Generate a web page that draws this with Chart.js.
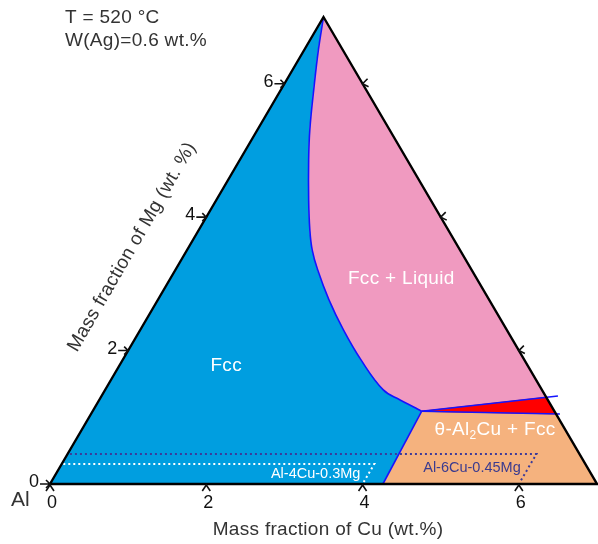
<!DOCTYPE html>
<html>
<head>
<meta charset="utf-8">
<title>Al-Cu-Mg isothermal section</title>
<script src="https://cdn.jsdelivr.net/npm/chart.js@4.4.1/dist/chart.umd.min.js"></script>
<style>
  html, body { margin: 0; padding: 0; background: #fff; }
  canvas { display: block; }
</style>
</head>
<body>
<canvas id="ternary" width="598" height="544"></canvas>
<script>
// ===================================
// DATA (wt.% Cu, wt.% Mg; Al is the balance)
// ===================================

const cornerCu = [0, 7, 0];
const cornerMg = [0, 0, 7];

// Fcc / Fcc + Liquid boundary, Mg corner down to the three-phase point
const liquidusCu = [0, 0.18, 0.42, 0.67, 0.88, 1.18, 1.42, 1.60, 1.82, 2.19, 2.60, 3.05, 3.56, 3.85, 4.11, 4.21];
const liquidusMg = [7, 6.51, 5.91, 5.31, 4.86, 4.26, 3.81, 3.51, 3.21, 2.76, 2.31, 1.86, 1.41, 1.26, 1.14, 1.09];

// Fcc / theta + Fcc boundary
const solvusCu = [4.21, 4.26];
const solvusMg = [1.09, 0];

// edges of the three-phase sliver (they run a little past the Cu+Mg=7 side)
const upperCu = [4.21, 5.84];
const upperMg = [1.09, 1.32];
const lowerCu = [4.21, 6.00];
const lowerMg = [1.09, 1.05];

// alloy composition guides
const alloy4Cu = [0.02, 4, 4];
const alloy4Mg = [0.30, 0.30, 0.02];
const alloy6Cu = [0.03, 6, 6];
const alloy6Mg = [0.45, 0.45, 0.02];

const cuTicks = [0, 2, 4, 6];
const mgTicks = [0, 2, 4, 6];
const rightTicks = [2, 4, 6];

// ===================================
// HELPERS
// ===================================

// ternary (Cu, Mg) -> cartesian, Mg corner sits above Cu = 3.5
function toXY(cu, mg) {
    return { x: cu + mg / 2, y: mg };
}

function points(cus, mgs) {
    return cus.map((c, i) => toXY(c, mgs[i]));
}

// where a two-point line meets the Cu + Mg = 7 side
function edgeHit(cus, mgs) {
    const s0 = cus[0] + mgs[0];
    const s1 = cus[1] + mgs[1];
    const t = (7 - s0) / (s1 - s0);
    return [cus[0] + t * (cus[1] - cus[0]), mgs[0] + t * (mgs[1] - mgs[0])];
}

const upperEnd = edgeHit(upperCu, upperMg);
const lowerEnd = edgeHit(lowerCu, lowerMg);
const triple = [liquidusCu[liquidusCu.length - 1], liquidusMg[liquidusMg.length - 1]];
const solvusFoot = [solvusCu[1], solvusMg[1]];

// region outlines
const fccRegion = [toXY(0, 0), ...points(liquidusCu, liquidusMg), toXY(...solvusFoot), toXY(0, 0)];
const liquidRegion = [...points(liquidusCu, liquidusMg), toXY(...upperEnd), toXY(0, 7)];
const sliverRegion = [toXY(...triple), toXY(...upperEnd), toXY(...lowerEnd), toXY(...triple)];
const thetaRegion = [toXY(...triple), toXY(...lowerEnd), toXY(7, 0), toXY(...solvusFoot), toXY(...triple)];
const outline = [...points(cornerCu, cornerMg), toXY(0, 0)];

const FONT = '"Liberation Sans", Arial, sans-serif';

function lineSet(data, color, width, dash, tension) {
    return {
        data: data,
        showLine: true,
        fill: false,
        borderColor: color,
        borderWidth: width,
        borderDash: dash || [],
        pointRadius: 0,
        tension: tension || 0,
        clip: false
    };
}

function regionSet(data, color) {
    return {
        data: data,
        showLine: true,
        fill: 'shape',
        backgroundColor: color,
        borderColor: color,
        borderWidth: 1,
        pointRadius: 0,
        tension: 0
    };
}

// ===================================
// TICKS AND LABELS
// ===================================

const overlay = {
    id: 'ternaryOverlay',
    afterDatasetsDraw(chart) {
        const { ctx, scales: { x, y } } = chart;
        const px = (cu, mg) => {
            const p = toXY(cu, mg);
            return [x.getPixelForValue(p.x), y.getPixelForValue(p.y)];
        };

        ctx.save();
        ctx.strokeStyle = '#111';
        ctx.fillStyle = '#111';
        ctx.lineWidth = 1.6;
        ctx.font = '18px ' + FONT;

        // bottom (Cu) ticks
        ctx.textAlign = 'center';
        ctx.textBaseline = 'middle';
        cuTicks.forEach(v => {
            const [cx, cy] = px(v, 0);
            ctx.beginPath();
            ctx.moveTo(cx - 4, cy + 7);
            ctx.lineTo(cx, cy + 1);
            ctx.lineTo(cx + 4, cy + 7);
            ctx.stroke();
            ctx.fillText(String(v), cx + 2, cy + 19);
        });

        // left (Mg) ticks
        ctx.textAlign = 'right';
        mgTicks.forEach(v => {
            const [cx, cy] = px(0, v);
            ctx.beginPath();
            ctx.moveTo(cx - 10, cy);
            ctx.lineTo(cx, cy);
            ctx.moveTo(cx - 4, cy - 4);
            ctx.lineTo(cx, cy);
            ctx.lineTo(cx - 4, cy + 4);
            ctx.stroke();
            ctx.fillText(String(v), cx - 11, cy - 2);
        });

        // right side ticks
        rightTicks.forEach(v => {
            const [cx, cy] = px(7 - v, v);
            ctx.beginPath();
            ctx.moveTo(cx + 5, cy - 5);
            ctx.lineTo(cx, cy);
            ctx.lineTo(cx + 6, cy + 3);
            ctx.stroke();
        });

        // corner and axis titles
        ctx.fillStyle = '#333';
        ctx.textAlign = 'left';
        ctx.font = '21px ' + FONT;
        ctx.fillText('Al', 11, 500);

        ctx.font = '19px ' + FONT;
        ctx.letterSpacing = '0.3px';
        ctx.fillText('T = 520 \u00B0C', 65, 18);
        ctx.fillText('W(Ag)=0.6 wt.%', 65, 41);

        ctx.textAlign = 'center';
        ctx.fillText('Mass fraction of Cu (wt.%)', 328, 530);

        ctx.save();
        ctx.translate(132, 247);
        ctx.rotate(-Math.PI / 3);
        ctx.fillText('Mass fraction of Mg (wt. %)', 0, 0);
        ctx.restore();

        // region names
        ctx.fillStyle = '#fff';
        let [lx, ly] = px(1.37, 1.77);
        ctx.fillText('Fcc', lx, ly);
        [lx, ly] = px(2.96, 3.07);
        ctx.fillText('Fcc + Liquid', lx, ly);

        // theta-Al2Cu + Fcc with subscript
        [lx, ly] = px(5.29, 0.81);
        const partA = '\u03B8-Al';
        const partB = 'Cu + Fcc';
        ctx.font = '19px ' + FONT;
        const wA = ctx.measureText(partA).width;
        const wB = ctx.measureText(partB).width;
        ctx.font = '12px ' + FONT;
        const wS = ctx.measureText('2').width;
        const sx = lx - (wA + wS + wB) / 2;
        ctx.textAlign = 'left';
        ctx.font = '19px ' + FONT;
        ctx.fillText(partA, sx, ly);
        ctx.font = '12px ' + FONT;
        ctx.fillText('2', sx + wA, ly + 6);
        ctx.font = '19px ' + FONT;
        ctx.fillText(partB, sx + wA + wS, ly);

        // alloy names
        ctx.letterSpacing = '0px';
        ctx.textAlign = 'center';
        ctx.font = '14.5px ' + FONT;
        ctx.fillStyle = '#fff';
        [lx, ly] = px(3.35, 0.15);
        ctx.fillText('Al-4Cu-0.3Mg', lx - 2, ly);
        ctx.fillStyle = '#3b3b8f';
        [lx, ly] = px(5.28, 0.24);
        ctx.fillText('Al-6Cu-0.45Mg', lx, ly);

        ctx.restore();
    }
};

// ===================================
// CHART
// ===================================

const ctx = document.getElementById('ternary').getContext('2d');

new Chart(ctx, {
    type: 'scatter',
    data: {
        datasets: [
            // first entry is drawn on top
            lineSet(outline, '#000', 2.4),
            lineSet(points(upperCu, upperMg), '#1414ff', 1.6),
            lineSet(points(lowerCu, lowerMg), '#1414ff', 1.6),
            lineSet(points(solvusCu, solvusMg), '#1414ff', 1.6),
            lineSet(points(liquidusCu, liquidusMg), '#1414ff', 1.6, null, 0.4),
            lineSet(points(alloy4Cu, alloy4Mg), '#ffffff', 2, [2, 3]),
            lineSet(points(alloy6Cu, alloy6Mg), '#3b3b9a', 2, [2, 3]),
            regionSet(sliverRegion, '#ff0000'),
            regionSet(thetaRegion, '#f5b27e'),
            regionSet(liquidRegion, '#f09ac0'),
            regionSet(fccRegion, '#009ee0')
        ]
    },
    options: {
        responsive: false,
        animation: false,
        devicePixelRatio: 1,
        events: [],
        layout: {
            padding: { left: 50, right: 1, top: 17, bottom: 60 }
        },
        plugins: {
            legend: { display: false },
            tooltip: { enabled: false }
        },
        scales: {
            x: { type: 'linear', min: 0, max: 7, display: false },
            y: { type: 'linear', min: 0, max: 7, display: false }
        }
    },
    plugins: [overlay]
});
</script>
</body>
</html>
